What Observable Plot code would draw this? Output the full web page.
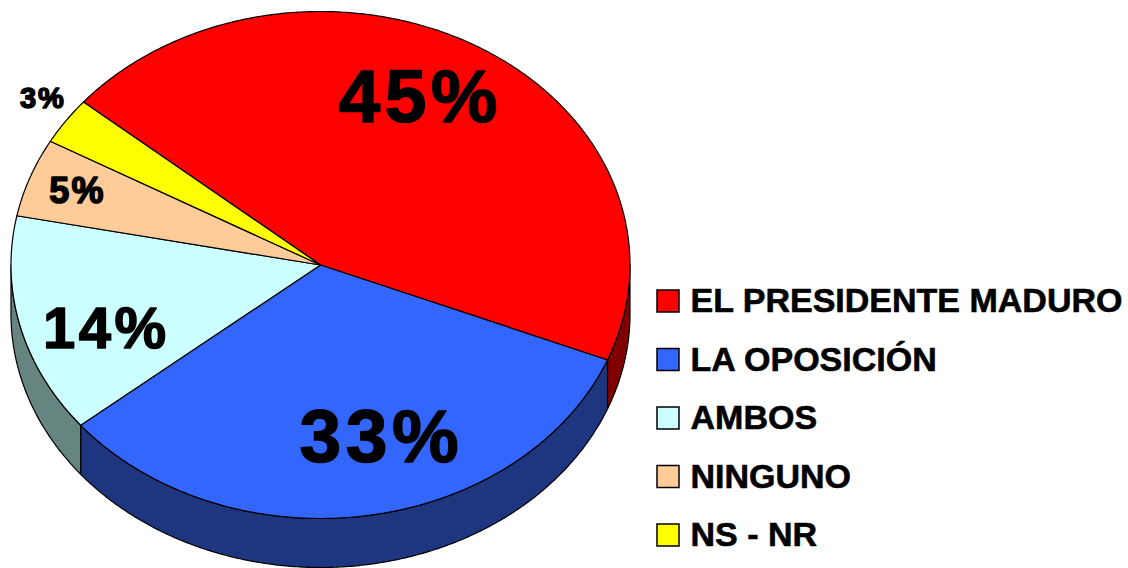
<!DOCTYPE html>
<html>
<head>
<meta charset="utf-8">
<script src="https://cdn.jsdelivr.net/npm/d3@7"></script>
<script src="https://cdn.jsdelivr.net/npm/@observablehq/plot@0.6"></script>
<style>
  html, body { margin: 0; padding: 0; background: #ffffff; }
  #chart { width: 1128px; height: 568px; overflow: hidden; }
</style>
</head>
<body>
<div id="chart"></div>
<script>
// ---- data ----
const categories = ["EL PRESIDENTE MADURO", "LA OPOSICIÓN", "AMBOS", "NINGUNO", "NS - NR"];
const values = [45, 33, 14, 5, 3];
const labels = ["45%", "33%", "14%", "5%", "3%"];
const topColors = ["#FF0000", "#3366FF", "#CCFFFF", "#FFCC99", "#FFFF00"];
const sideColors = ["#800000", "#1E3580", "#668480", "#806650", "#808000"];

// ---- layout (pixel space mapped 1:1 through Plot's scales) ----
const W = 1128, H = 568;
const CX = 320, CY = 264.5, RX = 309.5, RY = 253.5, DEPTH = 49, START = -50;
const labelR = [0.77, 0.69, 0.72, 0.84, 1.09];
const labelShift = [[-23, 0], [29, 0], [2, 20], [1, 0], [0, -9]];
const labelSize = [75, 75, 58, 36, 29];

const rad = Math.PI / 180;
const slices = d3.pie().sort(null)
  .startAngle(START * rad).endAngle((START + 360) * rad)(values);

const px = a => CX + RX * Math.sin(a);
const py = a => CY - RY * Math.cos(a);
function arcAngles(a0, a1) {
  const n = Math.max(2, Math.ceil((a1 - a0) / (0.5 * rad)));
  return d3.range(n + 1).map(i => a0 + (a1 - a0) * i / n);
}

const marks = [];

// side walls (front half only)
slices.forEach((s, i) => {
  const lo = Math.max(s.startAngle, 90 * rad), hi = Math.min(s.endAngle, 270 * rad);
  if (hi <= lo) return;
  const angs = arcAngles(lo, hi);
  const pts = [
    ...angs.map(a => ({x: px(a), y: py(a)})),
    ...angs.slice().reverse().map(a => ({x: px(a), y: py(a) + DEPTH}))
  ];
  pts.push(pts[0]);
  marks.push(Plot.line(pts, {x: "x", y: "y", fill: sideColors[i], stroke: "black",
    strokeWidth: 1.2, strokeLinejoin: "round", curve: "linear"}));
});

// top faces
slices.forEach((s, i) => {
  const angs = arcAngles(s.startAngle, s.endAngle);
  const pts = [{x: CX, y: CY}, ...angs.map(a => ({x: px(a), y: py(a)})), {x: CX, y: CY}];
  marks.push(Plot.line(pts, {x: "x", y: "y", fill: topColors[i], stroke: "black",
    strokeWidth: 1.2, strokeLinejoin: "round", curve: "linear"}));
});

// percentage labels
const labelData = slices.map((s, i) => {
  const m = (s.startAngle + s.endAngle) / 2;
  return {
    x: CX + RX * labelR[i] * Math.sin(m) + labelShift[i][0],
    y: CY - RY * labelR[i] * Math.cos(m) + labelShift[i][1],
    text: labels[i], size: labelSize[i]
  };
});
marks.push(Plot.text(labelData, {x: "x", y: "y", text: "text", fontSize: "size",
  fontWeight: "bold", fill: "black", stroke: "black", strokeWidth: 1.5,
  fontFamily: "Liberation Sans, Arial, sans-serif", textAnchor: "middle"}));

// legend
const legendRows = categories.map((c, i) => ({name: c, color: topColors[i], cy: 301 + 58.5 * i}));
marks.push(Plot.rect(legendRows, {x1: () => 657, x2: () => 679,
  y1: d => d.cy - 11, y2: d => d.cy + 11, fill: "color", stroke: "black", strokeWidth: 1.5}));
marks.push(Plot.text(legendRows, {x: () => 690, y: "cy", text: "name", textAnchor: "start",
  fontSize: 34, fontWeight: "bold", fill: "black", stroke: "black", strokeWidth: 0.6,
  fontFamily: "Liberation Sans, Arial, sans-serif"}));

const chart = Plot.plot({
  width: W, height: H,
  margin: 0,
  x: {domain: [0, W], range: [0, W], axis: null},
  y: {domain: [0, H], range: [0, H], axis: null},
  color: {type: "identity"},
  style: {background: "white", overflow: "visible"},
  marks
});
d3.select(chart).selectAll("text")
  .filter(function() { return labels.includes(this.textContent); })
  .style("letter-spacing", "0.06em");
document.getElementById("chart").appendChild(chart);
</script>
</body>
</html>
